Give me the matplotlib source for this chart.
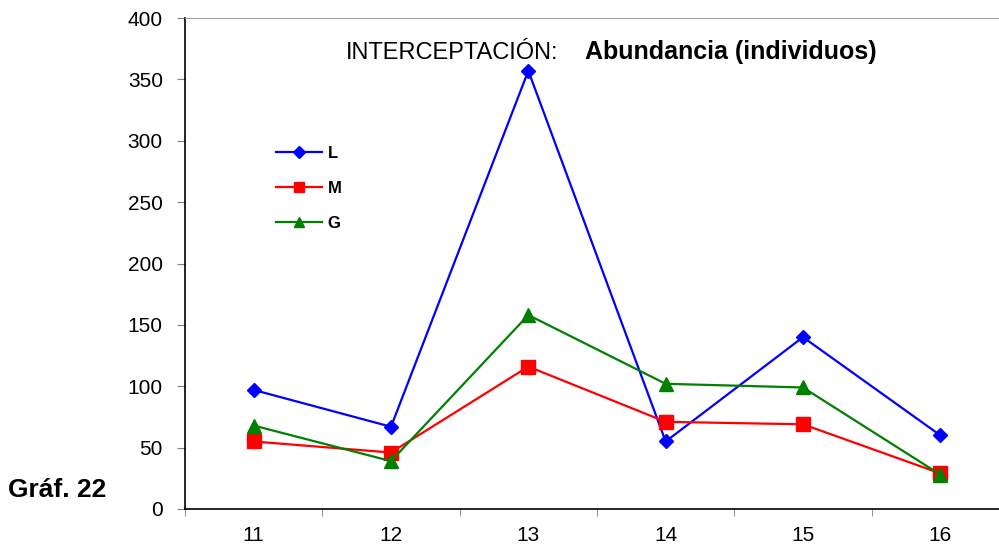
import matplotlib.pyplot as plt

plt.rcParams['font.family'] = ['Liberation Sans', 'DejaVu Sans']

categories = ['11', '12', '13', '14', '15', '16']
serie_l = [97, 67, 357, 55, 140, 60]
serie_m = [55, 46, 116, 71, 69, 29]
serie_g = [68, 39, 158, 102, 99, 28]

W, H = 999, 548
fig = plt.figure(figsize=(W / 100, H / 100), dpi=100)
# eje algo más ancho que la figura: el borde derecho queda cortado como en el original
ax = fig.add_axes([185 / W, 39 / H, 824 / W, 491 / H])

x = range(len(categories))
ax.plot(x, serie_l, color='#0000ff', lw=1.6, marker='D', ms=7.5, label='L')
ax.plot(x, serie_m, color='#ff0000', lw=1.6, marker='s', ms=9.5, label='M')
ax.plot(x, serie_g, color='#008000', lw=1.6, marker='^', ms=9.5, label='G')

ax.set_xlim(-0.5, 5.5)
ax.set_ylim(0, 400)
ax.set_yticks(range(0, 401, 50))
ax.set_xticks(x)
ax.set_xticklabels(categories)
ax.set_xticks([i + 0.5 for i in range(-1, 6)], minor=True)
ax.tick_params(axis='x', which='major', length=0, pad=12, labelsize=15)
ax.tick_params(axis='x', which='minor', length=5, color='#808080')
ax.tick_params(axis='y', length=6, color='#808080', labelsize=15, pad=10)

ax.spines['top'].set_color('#a0a0a0')
ax.spines['right'].set_visible(False)
for s in ('left', 'bottom'):
    ax.spines[s].set_color('black')
    ax.spines[s].set_linewidth(1.2)

fig.text(346 / W, 1 - 59 / H, 'INTERCEPTACIÓN:', fontsize=17, va='baseline')
fig.text(585 / W, 1 - 59 / H, 'Abundancia (individuos)', fontsize=18,
         fontweight='bold', va='baseline')
fig.text(8 / W, 1 - 497 / H, 'Gráf. 22', fontsize=19, fontweight='bold', va='baseline')

ax.legend(loc='upper left', bbox_to_anchor=((276 - 185) / 824, 1 - (146 - 18) / 491),
          frameon=False, prop={'weight': 'bold', 'size': 12}, handlelength=2.75,
          handletextpad=0.35, labelspacing=1.2, borderpad=0, borderaxespad=0,
          markerscale=0.8)

fig.savefig('out.png', dpi=100)
